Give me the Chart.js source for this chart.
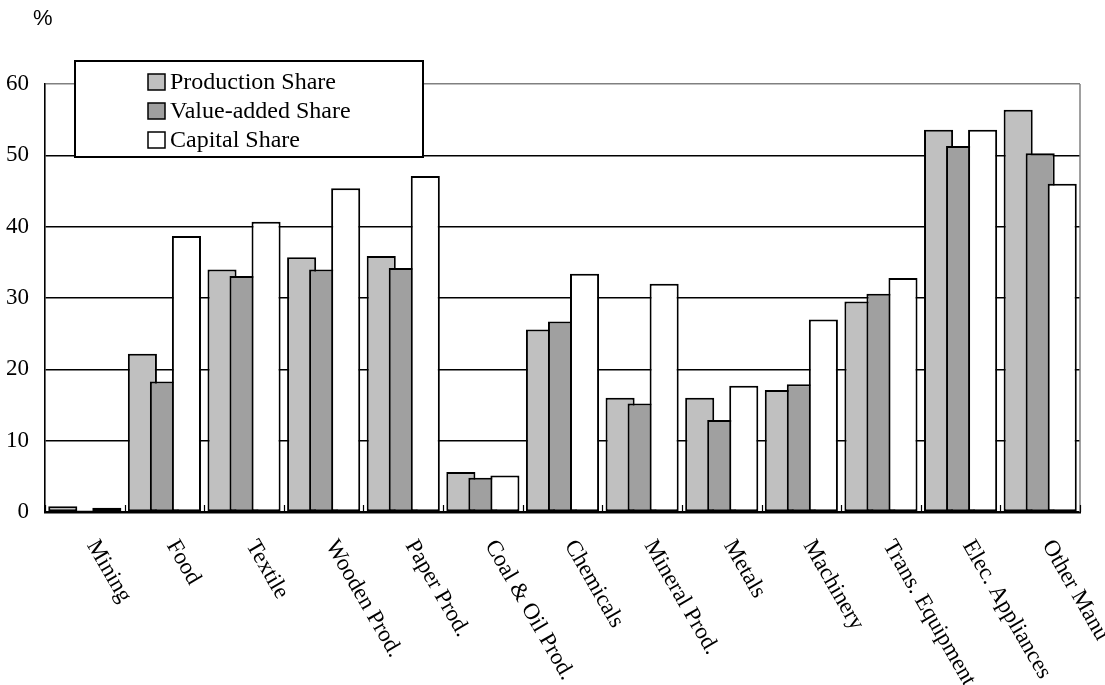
<!DOCTYPE html>
<html>
<head>
<meta charset="utf-8">
<script src="https://cdn.jsdelivr.net/npm/chart.js@4/dist/chart.umd.min.js"></script>
<style>
  html, body { margin: 0; padding: 0; background: #fff; }
  #wrap { width: 1105px; height: 685px; position: relative; }
</style>
</head>
<body>
<div id="wrap"><canvas id="chart" width="1105" height="685"></canvas></div>
<script>
// Industry categories along the horizontal axis
const categories = [
  'Mining', 'Food', 'Textile', 'Wooden Prod.', 'Paper Prod.', 'Coal & Oil Prod.',
  'Chemicals', 'Mineral Prod.', 'Metals', 'Machinery', 'Trans. Equipment',
  'Elec. Appliances', 'Other Manu'
];

// Shares in percent
const productionShare = [0.8, 22.2, 34.0, 35.7, 35.9, 5.6, 25.6, 16.0, 16.0, 17.1, 29.5, 53.6, 56.4];
const valueAddedShare = [0.2, 18.3, 33.1, 34.0, 34.2, 4.8, 26.7, 15.2, 12.9, 17.9, 30.6, 51.3, 50.3];
const capitalShare    = [0.6, 38.7, 40.7, 45.4, 47.1, 5.1, 33.4, 32.0, 17.7, 27.0, 32.8, 53.6, 46.0];

const seriesNames = ['Production Share', 'Value-added Share', 'Capital Share'];
const seriesColors = ['#c0c0c0', '#a0a0a0', '#ffffff'];

const yMin = 0, yMax = 60, yStep = 10;

const serif = '"Liberation Serif", "Times New Roman", serif';

// Draw datasets first-to-last so later series sit on top of earlier ones
const layerOrder = {
  id: 'layerOrder',
  beforeDatasetsDraw(chart) {
    chart.getSortedVisibleDatasetMetas().forEach(m => m.controller.draw());
    return false;
  }
};

// Frame details, category separators, rotated category labels, unit and legend box
const decorations = {
  id: 'decorations',
  afterDraw(chart) {
    const ctx = chart.ctx;
    const area = chart.chartArea;
    const xs = chart.scales.x;

    ctx.save();
    // right frame edge
    ctx.strokeStyle = '#808080';
    ctx.lineWidth = 1.5;
    ctx.beginPath();
    ctx.moveTo(area.right, area.top);
    ctx.lineTo(area.right, area.bottom);
    ctx.stroke();

    // short inward tick marks at category boundaries
    ctx.strokeStyle = '#000';
    ctx.lineWidth = 1.2;
    for (let i = 0; i <= categories.length; i++) {
      const x = Math.round(xs.getPixelForValue(i - 0.5)) + 0.5;
      ctx.beginPath();
      ctx.moveTo(x, area.bottom);
      ctx.lineTo(x, area.bottom - 7);
      ctx.stroke();
    }

    // category labels, slanted downwards
    ctx.fillStyle = '#000';
    ctx.font = '23px ' + serif;
    ctx.textAlign = 'left';
    ctx.textBaseline = 'middle';
    categories.forEach((c, i) => {
      const x = xs.getPixelForValue(i);
      ctx.save();
      ctx.translate(x + 7, area.bottom + 30);
      ctx.rotate(Math.PI / 3);
      ctx.fillText(c, 0, 0);
      ctx.restore();
    });

    // unit label
    ctx.font = '22px "Liberation Sans", Arial, sans-serif';
    ctx.textBaseline = 'alphabetic';
    ctx.fillText('%', 33, 25);

    // legend box
    const lx = 75, ly = 61, lw = 348, lh = 96;
    ctx.fillStyle = '#fff';
    ctx.fillRect(lx, ly, lw, lh);
    ctx.strokeStyle = '#000';
    ctx.lineWidth = 2;
    ctx.strokeRect(lx, ly, lw, lh);

    ctx.font = '24px ' + serif;
    ctx.textBaseline = 'middle';
    chart.data.datasets.forEach((ds, i) => {
      const cy = 82 + i * 29;
      ctx.fillStyle = ds.backgroundColor;
      ctx.fillRect(148, cy - 8, 17, 16);
      ctx.strokeStyle = '#000';
      ctx.lineWidth = 1.5;
      ctx.strokeRect(148, cy - 8, 17, 16);
      ctx.fillStyle = '#000';
      ctx.fillText(ds.label, 170, cy + 1);
    });
    ctx.restore();
  }
};

const seriesValues = [productionShare, valueAddedShare, capitalShare];

new Chart(document.getElementById('chart'), {
  type: 'bar',
  data: {
    labels: categories,
    datasets: seriesValues.map((vals, i) => ({
      label: seriesNames[i],
      data: vals,
      backgroundColor: seriesColors[i],
      borderColor: '#000',
      borderWidth: 2,
      borderSkipped: false,
      inflateAmount: 0,
      categoryPercentage: 0.83,
      barPercentage: 1.32
    }))
  },
  options: {
    responsive: false,
    animation: false,
    events: [],
    layout: { padding: { left: 0, top: 84, right: 25, bottom: 0 } },
    plugins: {
      legend: { display: false },
      tooltip: { enabled: false }
    },
    scales: {
      x: {
        offset: true,
        grid: { display: true, drawOnChartArea: false, drawTicks: false },
        border: { display: true, color: '#000', width: 2.5 },
        ticks: { display: false },
        afterFit(scale) { scale.height = 173; }
      },
      y: {
        min: yMin,
        max: yMax,
        ticks: {
          stepSize: yStep,
          padding: 16,
          color: '#000',
          font: { family: serif, size: 23 }
        },
        grid: {
          drawTicks: false,
          lineWidth: 1.6,
          color: c => (c.tick && c.tick.value === yMax ? '#808080' : '#000')
        },
        border: { display: true, color: '#000', width: 1.6 },
        afterFit(scale) { scale.width = 45; }
      }
    }
  },
  plugins: [layerOrder, decorations]
});
</script>
</body>
</html>
